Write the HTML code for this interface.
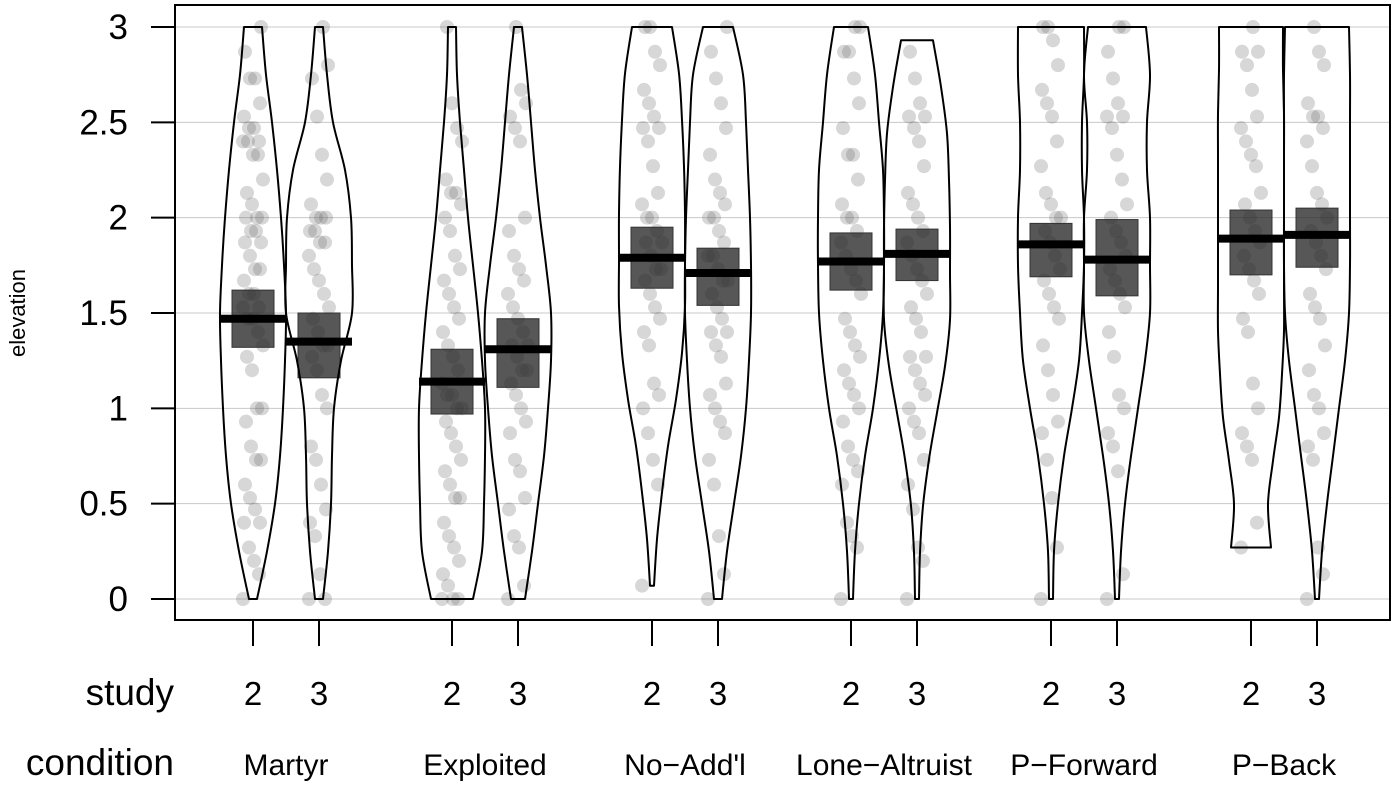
<!DOCTYPE html>
<html><head><meta charset="utf-8">
<style>
html,body{margin:0;padding:0;background:#fff;}
svg{display:block;font-family:"Liberation Sans",Arial,sans-serif;}
</style></head>
<body>
<svg id="chart" width="1400" height="785" viewBox="0 0 1400 785" xmlns="http://www.w3.org/2000/svg"></svg>
<script>
const conditions = ["Martyr","Exploited","No\u2212Add'l","Lone\u2212Altruist","P\u2212Forward","P\u2212Back"];
const studies = ["2","3"];
const means = [1.47,1.35, 1.14,1.31, 1.79,1.71, 1.77,1.81, 1.86,1.78, 1.89,1.91];
const hdiLow = [1.32,1.16, 0.97,1.11, 1.63,1.54, 1.62,1.67, 1.69,1.59, 1.70,1.74];
const hdiHigh = [1.62,1.50, 1.31,1.47, 1.95,1.84, 1.92,1.94, 1.97,1.99, 2.04,2.05];
const violinMin = [0,0, 0,0, 0.07,0, 0,0, 0,0, 0.27,0];
const violinMax = [3,3, 3,3, 3,3, 3,2.93, 3,3, 3,3];
const densityWidths = [
 [4,14,22,27,30,32,33,31,28,24,19,13,9],
 [4,9,12,13,15,22,33,33,32,26,14,8,4],
 [21,30,32,33,33,30,26,21,16,12,8,5,4],
 [7,14,20,26,30,33,33,28,22,17,13,9,4],
 [2,5,10,16,24,30,33,33,33,32,30,27,20],
 [4,9,16,23,28,31,33,33,32,30,28,25,15],
 [2,4,8,14,22,28,32,33,33,32,28,24,17],
 [2,3,6,12,20,28,33,33,33,32,30,24,16],
 [2,3,7,13,21,28,31,33,33,31,31,33,33],
 [2,4,8,14,21,28,33,33,33,30,30,33,29],
 [20,17,22,28,31,33,33,33,33,33,33,32,32],
 [2,5,10,16,22,28,32,33,33,33,33,33,32]
];
const yTicks = [0,0.5,1,1.5,2,2.5,3];
const yTickLabels = ["0","0.5","1","1.5","2","2.5","3"];
const points = [
 [0,0.13,0.2,0.27,0.4,0.4,0.47,0.53,0.6,0.73,0.73,0.8,0.93,1,1,1.2,1.27,1.33,1.4,1.47,1.47,1.53,1.53,1.6,1.6,1.67,1.73,1.73,1.8,1.87,1.87,1.93,1.93,2,2,2,2.07,2.13,2.2,2.33,2.33,2.4,2.4,2.4,2.47,2.47,2.53,2.6,2.73,2.73,2.87,3],
 [0,0,0.13,0.33,0.4,0.47,0.6,0.73,0.8,1,1.07,1.2,1.27,1.33,1.33,1.4,1.47,1.53,1.6,1.67,1.73,1.8,1.87,1.87,1.93,1.93,2,2,2,2.07,2.2,2.33,2.53,2.73,2.8,3],
 [0,0,0,0.07,0.13,0.2,0.27,0.33,0.4,0.53,0.53,0.6,0.67,0.73,0.8,0.87,0.93,1,1,1.07,1.07,1.13,1.2,1.27,1.33,1.4,1.47,1.53,1.6,1.67,1.73,1.8,1.93,2,2.07,2.13,2.13,2.2,2.4,2.47,2.6,3],
 [0,0.07,0.27,0.33,0.47,0.53,0.67,0.73,0.87,0.93,1,1.07,1.13,1.2,1.2,1.27,1.33,1.33,1.4,1.47,1.53,1.6,1.67,1.73,1.8,1.93,2,2.4,2.47,2.53,2.6,2.67,3],
 [0.07,0.6,0.73,0.87,1,1.07,1.13,1.33,1.4,1.47,1.53,1.6,1.67,1.73,1.73,1.8,1.87,1.87,1.93,2,2,2.07,2.13,2.27,2.4,2.47,2.47,2.53,2.6,2.67,2.8,2.87,3,3],
 [0,0.13,0.33,0.6,0.73,0.87,0.93,1,1.07,1.13,1.27,1.33,1.4,1.4,1.47,1.53,1.6,1.67,1.67,1.73,1.8,1.8,1.87,1.93,2,2,2.07,2.13,2.2,2.33,2.47,2.6,2.73,2.87,3],
 [0,0.27,0.33,0.4,0.6,0.67,0.73,0.8,0.93,1,1.07,1.13,1.2,1.27,1.33,1.4,1.47,1.6,1.67,1.73,1.8,1.87,1.93,2,2,2.07,2.2,2.33,2.33,2.47,2.6,2.73,2.87,2.87,3,3],
 [0,0.2,0.27,0.47,0.6,0.73,0.87,0.93,1,1.07,1.13,1.2,1.27,1.27,1.4,1.47,1.53,1.6,1.67,1.73,1.8,1.87,1.93,2,2.07,2.13,2.27,2.4,2.47,2.53,2.53,2.6,2.73,2.87],
 [0,0.27,0.53,0.73,0.87,0.93,1.07,1.2,1.33,1.47,1.53,1.6,1.67,1.73,1.8,1.87,1.93,2,2,2.07,2.13,2.27,2.4,2.53,2.6,2.67,2.8,2.93,3,3],
 [0,0.13,0.67,0.8,0.87,1,1.07,1.27,1.4,1.53,1.6,1.67,1.73,1.8,1.87,1.93,2,2.07,2.2,2.33,2.47,2.53,2.53,2.6,2.73,2.87,3,3],
 [0.27,0.4,0.73,0.8,0.87,1,1.13,1.4,1.47,1.6,1.67,1.73,1.8,1.87,1.93,2,2.07,2.13,2.27,2.33,2.4,2.47,2.53,2.67,2.8,2.87,2.87,3],
 [0,0.13,0.27,0.73,0.8,0.87,1,1.07,1.2,1.33,1.47,1.53,1.6,1.73,1.8,1.87,1.93,2,2.07,2.13,2.27,2.4,2.47,2.53,2.53,2.6,2.8,2.87,3]
];

const NS="http://www.w3.org/2000/svg";
const svg=document.getElementById('chart');
const plotL=175, plotR=1390, plotT=5, plotB=620;
const y0px=599, y3px=27;
function yScale(v){return y0px-(v/3)*(y0px-y3px);}
const groupCenters=[253,452,652,851,1051,1251];
const studyOffset=[0,66];
function xScale(i){return groupCenters[Math.floor(i/2)]+studyOffset[i%2];}
function mk(tag,attrs,parent){const e=document.createElementNS(NS,tag);for(const k in attrs)e.setAttribute(k,attrs[k]);(parent||svg).appendChild(e);return e;}
function smooth(pts){
  let d='M'+pts[0][0].toFixed(1)+','+pts[0][1].toFixed(1);
  for(let i=0;i<pts.length-1;i++){
    const p0=pts[Math.max(0,i-1)],p1=pts[i],p2=pts[i+1],p3=pts[Math.min(pts.length-1,i+2)];
    const c1=[p1[0]+(p2[0]-p0[0])/6,p1[1]+(p2[1]-p0[1])/6];
    const c2=[p2[0]-(p3[0]-p1[0])/6,p2[1]-(p3[1]-p1[1])/6];
    d+=' C'+c1[0].toFixed(1)+','+c1[1].toFixed(1)+' '+c2[0].toFixed(1)+','+c2[1].toFixed(1)+' '+p2[0].toFixed(1)+','+p2[1].toFixed(1);
  }
  return d;
}

yTicks.forEach((t,i)=>{
  const g=mk('line',{x1:plotL,x2:plotR,y1:yScale(t),y2:yScale(t),stroke:'#c8c8c8','stroke-width':1});
  
  
  const tk=mk('line',{x1:151,x2:plotL,y1:yScale(t),y2:yScale(t),stroke:'#000','stroke-width':2});
  
  
  const tx=mk('text',{x:128,y:yScale(t)+12,'text-anchor':'end','font-size':35,fill:'#000'});
  tx.textContent=yTickLabels[i];
  
  
});
const yt=mk('text',{x:0,y:0,'font-size':22,'text-anchor':'middle',transform:'translate(25,313) rotate(-90)'});
yt.textContent='elevation';



for(let i=0;i<12;i++){
  const cx=xScale(i);
  const g=mk('g',{});
  
  
  const pts=points[i];
  pts.forEach((v,k)=>{
    const jit=((k*37)%21)-10;
    const c=mk('circle',{cx:cx+jit,cy:yScale(v),r:7,fill:'rgba(100,100,100,0.26)'},g);
    
    
  });
  const b=mk('rect',{x:cx-21,y:yScale(hdiHigh[i]),width:42,height:yScale(hdiLow[i])-yScale(hdiHigh[i]),fill:'rgba(40,40,40,0.78)',stroke:'#333','stroke-width':1},g);
  
  
  const w=densityWidths[i];
  const n=w.length;
  const lo=violinMin[i], hi=violinMax[i];
  const right=[], left=[];
  for(let k=0;k<n;k++){
    const v=lo+(hi-lo)*k/(n-1);
    right.push([cx+w[k],yScale(v)]);
    left.push([cx-w[k],yScale(v)]);
  }
  left.reverse();
  const d=smooth(right)+' L'+smooth(left).slice(1)+' Z';
  const vp=mk('path',{d:d,fill:'none',stroke:'#000','stroke-width':2,'stroke-linejoin':'round'},g);
  
  
  const m=mk('line',{x1:cx-33,x2:cx+33,y1:yScale(means[i]),y2:yScale(means[i]),stroke:'#000','stroke-width':8},g);
  
  
  const t=mk('line',{x1:cx,x2:cx,y1:plotB,y2:646,stroke:'#000','stroke-width':2});
  
  
  const st=mk('text',{x:cx,y:705,'text-anchor':'middle','font-size':33});
  st.textContent=studies[i%2];
  
  
}
conditions.forEach((c,j)=>{
  const t=mk('text',{x:groupCenters[j]+33,y:775,'text-anchor':'middle','font-size':30});
  t.textContent=c;
  
  
});
const s1=mk('text',{x:174,y:705,'text-anchor':'end','font-size':37});
s1.textContent='study';


const s2=mk('text',{x:174,y:775,'text-anchor':'end','font-size':37});
s2.textContent='condition';



const frame=mk('rect',{x:plotL,y:plotT,width:plotR-plotL,height:plotB-plotT,fill:'none',stroke:'#000','stroke-width':2});


</script>
</body></html>
